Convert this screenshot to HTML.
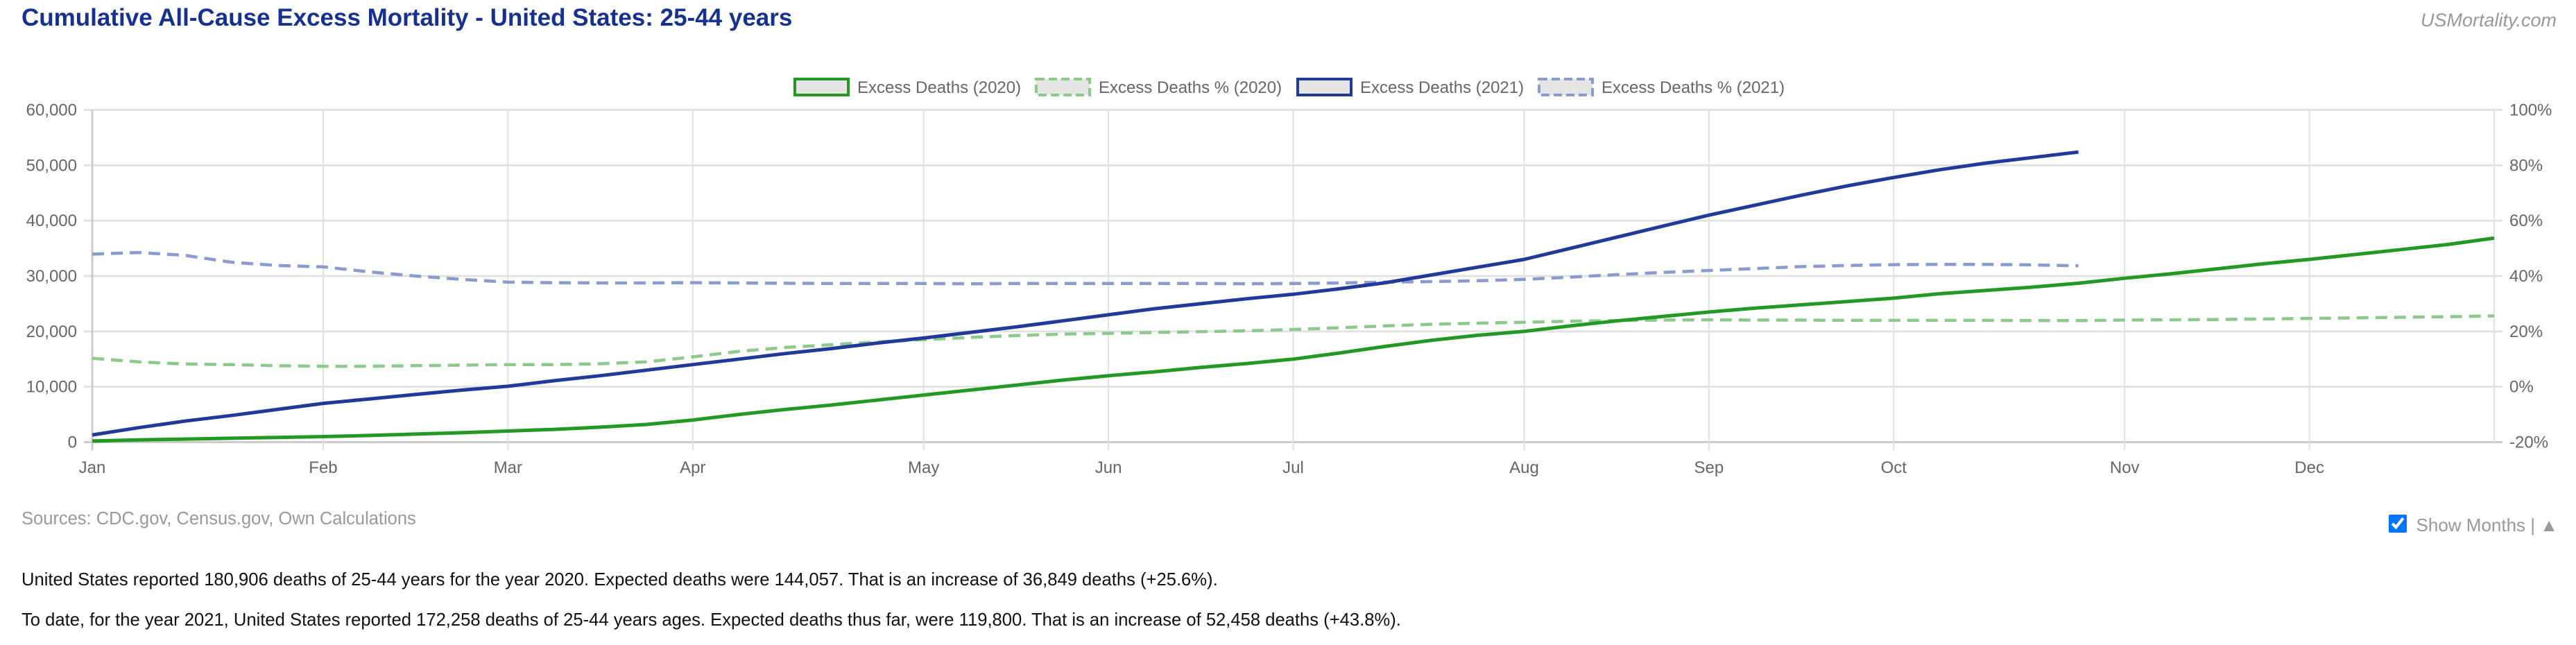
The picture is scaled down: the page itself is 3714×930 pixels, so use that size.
<!DOCTYPE html>
<html><head><meta charset="utf-8"><style>
body{margin:0;width:3714px;height:930px;background:#fff;font-family:"Liberation Sans",sans-serif;overflow:hidden;position:relative}
.t{position:absolute;white-space:nowrap}
</style></head><body>
<div class="t" style="left:31px;top:6px;font-size:35px;font-weight:bold;color:#16318f">Cumulative All-Cause Excess Mortality - United States: 25-44 years</div>
<div class="t" style="right:28px;top:14px;font-size:27px;font-style:italic;color:#999">USMortality.com</div>
<svg id="chart" width="3714" height="720" style="position:absolute;left:0;top:0" font-family="Liberation Sans, sans-serif"></svg>
<div class="t" style="left:31px;top:734px;font-size:25.5px;color:#999">Sources: CDC.gov, Census.gov, Own Calculations</div>
<div class="t" style="right:26px;top:742px;font-size:26px;color:#999"><input type="checkbox" checked style="width:26px;height:26px;margin:0 14px 0 0;vertical-align:-2px">Show Months | ▲</div>
<div class="t" style="left:31px;top:822px;font-size:25.6px;color:#111">United States reported 180,906 deaths of 25-44 years for the year 2020. Expected deaths were 144,057. That is an increase of 36,849 deaths (+25.6%).</div>
<div class="t" style="left:31px;top:880px;font-size:25.6px;color:#111">To date, for the year 2021, United States reported 172,258 deaths of 25-44 years ages. Expected deaths thus far, were 119,800. That is an increase of 52,458 deaths (+43.8%).</div>
<script>
const monthLabels=["Jan","Feb","Mar","Apr","May","Jun","Jul","Aug","Sep","Oct","Nov","Dec"];
const monthWeeks=[0,5,9,13,18,22,26,31,35,39,44,48];
const leftTicks=[0,10000,20000,30000,40000,50000,60000];
const rightTicks=[-20,0,20,40,60,80,100];
const deaths2020=[200,400,550,700,850,1000,1200,1450,1700,2000,2300,2700,3200,4000,5000,5900,6700,7600,8500,9400,10300,11200,12000,12700,13500,14200,15000,16100,17300,18400,19300,20000,21000,21900,22700,23500,24200,24800,25400,26000,26800,27400,28000,28700,29600,30400,31300,32200,33000,33900,34800,35700,36850];
const deaths2021=[1300,2600,3800,4800,5900,7000,7800,8600,9400,10100,11100,12000,13000,14000,15000,16000,16900,17900,18800,19800,20800,21900,23000,24100,25000,25900,26700,27700,28800,30200,31600,33000,35000,37000,39000,41000,42800,44600,46300,47800,49200,50400,51400,52400];
const pct2020=[10.3,9,8.2,8,7.6,7.4,7.4,7.6,7.8,8,8,8.3,9,10.8,12.8,14.2,15.2,16.2,17,17.8,18.5,19,19.3,19.6,19.9,20.2,20.7,21.3,22,22.6,23,23.3,23.7,23.9,24.1,24.2,24.1,24.1,24,24,24,24,23.9,23.9,24.1,24.2,24.3,24.5,24.7,24.9,25.1,25.3,25.6];
const pct2021=[47.9,48.5,47.5,45,43.8,43.3,41.5,40,38.8,37.8,37.6,37.5,37.5,37.6,37.5,37.4,37.3,37.3,37.3,37.2,37.3,37.3,37.3,37.3,37.3,37.2,37.3,37.5,37.8,38,38.3,38.8,39.6,40.5,41.3,42,42.7,43.4,43.8,44.1,44.2,44.2,44,43.7];
const legendLabels=["Excess Deaths (2020)","Excess Deaths % (2020)","Excess Deaths (2021)","Excess Deaths % (2021)"];

const NS="http://www.w3.org/2000/svg",svg=document.getElementById('chart');
const L=133,R=3596,T=158.5,B=637.5,W=52;
const x=w=>L+w*(R-L)/W;
const yL=v=>B-(v/60000)*(B-T);
const yR=p=>B-((p+20)/120)*(B-T);
function mk(tag,a){const e=document.createElementNS(NS,tag);for(const k in a)e.setAttribute(k,a[k]);svg.appendChild(e);return e;}
leftTicks.forEach((v,i)=>{
 const g=mk('line',{x1:L-12,x2:R+12,y1:yL(v),y2:yL(v),stroke:i==0?'#ccc':'#e2e2e2','stroke-width':3});
 
 const t=mk('text',{x:L-22,y:yL(v)+8,'text-anchor':'end','font-size':24,fill:'#666'});t.textContent=v.toLocaleString('en-US');
 
});
rightTicks.forEach(p=>{
 const t=mk('text',{x:R+22,y:yR(p)+8,'font-size':24,fill:'#666'});t.textContent=p+'%';
 
});
monthWeeks.forEach((w,i)=>{
 const g=mk('line',{x1:x(w),x2:x(w),y1:T,y2:B+12,stroke:i==0?'#ccc':'#e2e2e2','stroke-width':i==0?3:2});
 
 const t=mk('text',{x:x(w),y:682,'text-anchor':'middle','font-size':24,fill:'#666'});t.textContent=monthLabels[i];
 
});
const rl=mk('line',{x1:R,x2:R,y1:T,y2:B,stroke:'#e2e2e2','stroke-width':2});

function series(arr,fy,color,w,dash,name){
 const pts=arr.map((v,i)=>x(i).toFixed(1)+','+fy(v).toFixed(1)).join(' ');
 const a={points:pts,fill:'none',stroke:color,'stroke-width':w,'stroke-linejoin':'round'};
 if(dash)a['stroke-dasharray']=dash;
 const p=mk('polyline',a);
 
 
}
series(pct2020,yR,'#8cca8c',4.5,'17 10','line-pct-2020');
series(pct2021,yR,'#8a9bd0',4.5,'17 10','line-pct-2021');
series(deaths2020,yL,'#229922',5,null,'line-deaths-2020');
series(deaths2021,yL,'#1f3a99',5,null,'line-deaths-2021');
const lx=[1144,1492,1869,2217],lc=['#229922','#8cca8c','#1f3a99','#8a9bd0'];
legendLabels.forEach((s,i)=>{
 const r=mk('rect',{x:lx[i]+2,y:114,width:77,height:23,fill:'#e5e5e5',stroke:lc[i],'stroke-width':4});
 if(i%2)r.setAttribute('stroke-dasharray','12 6');
 
 const t=mk('text',{x:lx[i]+92,y:134,'font-size':24,fill:'#666'});t.textContent=s;
 
});
</script>
</body></html>
